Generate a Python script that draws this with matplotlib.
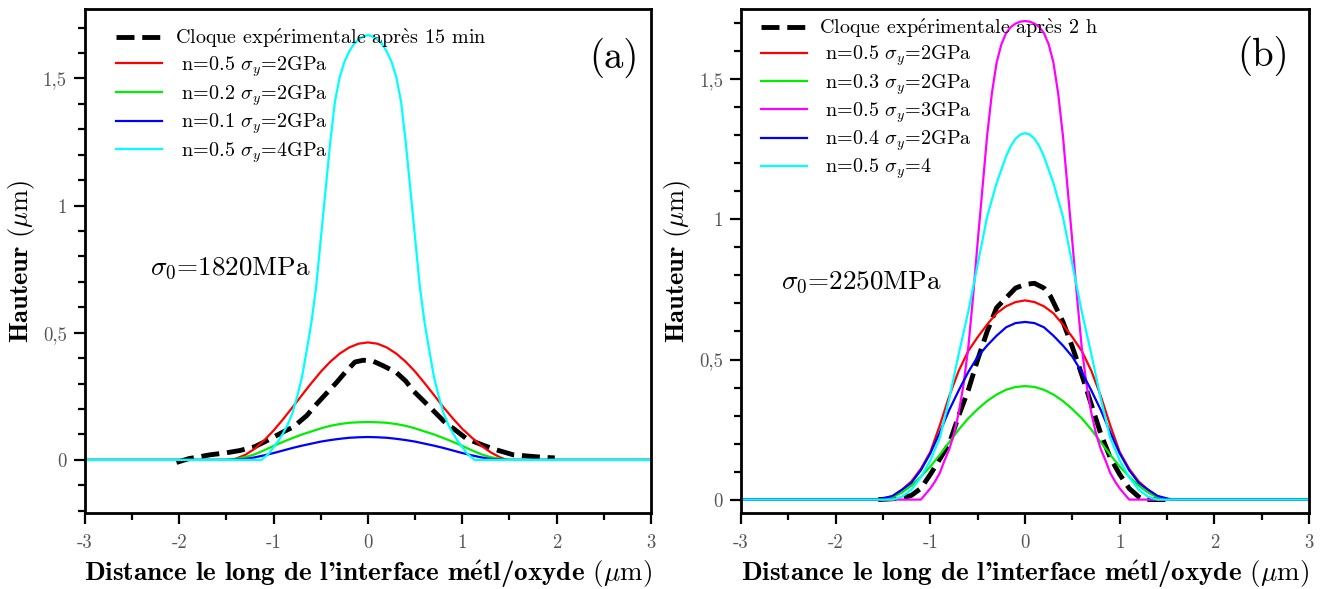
import matplotlib
matplotlib.use('Agg')
import matplotlib.pyplot as plt
from matplotlib.ticker import MultipleLocator

plt.rcParams['font.family'] = ['cmr10', 'DejaVu Serif']
plt.rcParams['mathtext.fontset'] = 'cm'
plt.rcParams['axes.unicode_minus'] = False

# ---------------- panel (a) : blister after 15 min ----------------
a_exp_x = [-2.03, -1.9, -1.675, -1.5, -1.357, -1.2, -1.074, -0.9, -0.79, -0.65, -0.544, -0.45,
           -0.332, -0.24, -0.138, -0.05, 0.056, 0.162, 0.30, 0.40, 0.48, 0.657, 0.834, 0.9,
           1.046, 1.22, 1.33, 1.54, 1.86, 1.98]
a_exp_y = [-0.01, 0.005, 0.02, 0.028, 0.037, 0.052, 0.075, 0.11, 0.13, 0.174, 0.22, 0.258,
           0.305, 0.345, 0.385, 0.392, 0.388, 0.37, 0.344, 0.31, 0.272, 0.207, 0.141, 0.125,
           0.083, 0.058, 0.043, 0.02, 0.01, 0.008]

a_red_x = [-3, -1.45, -1.4, -1.3, -1.2, -1.1, -1.0, -0.9, -0.8, -0.7, -0.6, -0.5, -0.4, -0.3, -0.2,
           -0.1, 0, 0.1, 0.2, 0.3, 0.4, 0.5, 0.6, 0.7, 0.8, 0.9, 1.0, 1.1, 1.2, 1.3, 1.4, 1.47, 3]
a_red_y = [0, 0, 0.005, 0.02, 0.044, 0.077, 0.116, 0.16, 0.207, 0.255, 0.302, 0.347, 0.386, 0.418,
           0.442, 0.457, 0.462, 0.457, 0.442, 0.418, 0.386, 0.347, 0.302, 0.255, 0.207, 0.163,
           0.122, 0.088, 0.056, 0.03, 0.01, 0, 0]

a_green_x = [-3, -1.5, -1.4, -1.3, -1.2, -1.1, -1.0, -0.9, -0.8, -0.7, -0.6, -0.5, -0.4, -0.3, -0.2,
             -0.1, 0, 0.1, 0.2, 0.3, 0.4, 0.5, 0.6, 0.7, 0.8, 0.9, 1.0, 1.1, 1.2, 1.3, 1.4, 1.5, 3]
a_green_y = [0, 0, 0.004, 0.011, 0.022, 0.038, 0.055, 0.071, 0.086, 0.1, 0.112, 0.124, 0.134, 0.141,
             0.146, 0.148, 0.149, 0.148, 0.146, 0.141, 0.134, 0.124, 0.112, 0.1, 0.086, 0.071,
             0.055, 0.038, 0.022, 0.011, 0.004, 0, 0]

a_blue_x = a_green_x
a_blue_y = [0, 0, 0.001, 0.004, 0.01, 0.018, 0.027, 0.037, 0.047, 0.056, 0.064, 0.072, 0.078, 0.083,
            0.087, 0.089, 0.09, 0.089, 0.087, 0.083, 0.078, 0.072, 0.064, 0.056, 0.047, 0.037,
            0.027, 0.018, 0.01, 0.004, 0.001, 0, 0]

a_cyan_x = [-3, -1.13, -1.1, -1.05, -1.0, -0.95, -0.9, -0.85, -0.8, -0.75, -0.7, -0.65, -0.6, -0.55,
            -0.5, -0.45, -0.4, -0.35, -0.3, -0.25, -0.2, -0.15, -0.1, -0.05, 0, 0.05, 0.1, 0.15,
            0.2, 0.25, 0.3, 0.35, 0.4, 0.45, 0.5, 0.55, 0.6, 0.65, 0.7, 0.75, 0.8, 0.85, 0.9,
            0.95, 1.0, 1.05, 1.1, 1.13, 3]
a_cyan_y = [0, 0, 0.01, 0.025, 0.05, 0.075, 0.105, 0.14, 0.185, 0.25, 0.325, 0.43, 0.54, 0.68,
            0.87, 1.06, 1.25, 1.41, 1.505, 1.565, 1.605, 1.635, 1.653, 1.665, 1.671, 1.665, 1.653,
            1.635, 1.605, 1.565, 1.505, 1.41, 1.25, 1.06, 0.87, 0.68, 0.54, 0.43, 0.325, 0.25,
            0.185, 0.14, 0.105, 0.075, 0.05, 0.025, 0.01, 0, 0]

a_labels = [r'Cloque exp$\mathrm{\acute{e}}$rimentale apr$\mathrm{\grave{e}}$s 15 min',
            r' n=0.5 $\sigma_y$=2GPa', r' n=0.2 $\sigma_y$=2GPa',
            r' n=0.1 $\sigma_y$=2GPa', r' n=0.5 $\sigma_y$=4GPa']

# ---------------- panel (b) : blister after 2 h ----------------
b_exp_x = [-1.55, -1.3, -1.2, -1.1, -1.0, -0.9, -0.8, -0.7, -0.6, -0.5, -0.4, -0.3, -0.2, -0.1,
           0, 0.1, 0.2, 0.27, 0.4, 0.5, 0.6, 0.7, 0.8, 0.9, 1.0, 1.1, 1.2, 1.25, 1.55]
b_exp_y = [0, 0.005, 0.015, 0.04, 0.09, 0.145, 0.2, 0.3, 0.39, 0.5, 0.6, 0.685, 0.72, 0.755,
           0.768, 0.772, 0.755, 0.725, 0.635, 0.545, 0.445, 0.34, 0.235, 0.15, 0.09, 0.04,
           0.01, 0, 0]

b_x = [-3, -1.5, -1.4, -1.3, -1.2, -1.1, -1.0, -0.9, -0.8, -0.7, -0.6, -0.5, -0.4, -0.3, -0.2,
       -0.1, 0, 0.1, 0.2, 0.3, 0.4, 0.5, 0.6, 0.7, 0.8, 0.9, 1.0, 1.1, 1.2, 1.3, 1.4, 1.5, 3]
b_red_y = [0, 0, 0.012, 0.035, 0.065, 0.11, 0.17, 0.265, 0.37, 0.46, 0.53, 0.58, 0.625, 0.665,
           0.69, 0.705, 0.711, 0.705, 0.69, 0.665, 0.625, 0.58, 0.53, 0.46, 0.37, 0.265, 0.17,
           0.11, 0.065, 0.035, 0.012, 0, 0]
b_green_y = [0, 0, 0.008, 0.025, 0.05, 0.082, 0.118, 0.16, 0.205, 0.25, 0.29, 0.323, 0.352, 0.375,
             0.392, 0.402, 0.405, 0.402, 0.392, 0.375, 0.352, 0.323, 0.29, 0.25, 0.205, 0.16,
             0.118, 0.082, 0.05, 0.025, 0.008, 0, 0]

b_mag_x = [-3, -1.1, -1.05, -1.0, -0.95, -0.9, -0.85, -0.8, -0.75, -0.7, -0.65, -0.6, -0.55, -0.5,
           -0.45, -0.4, -0.35, -0.3, -0.25, -0.2, -0.15, -0.1, -0.05, 0, 0.05, 0.1, 0.15, 0.2,
           0.25, 0.3, 0.35, 0.4, 0.45, 0.5, 0.55, 0.6, 0.65, 0.7, 0.75, 0.8, 0.85, 0.9, 0.95,
           1.0, 1.05, 1.1, 3]
b_mag_y = [0, 0, 0.02, 0.04, 0.065, 0.095, 0.14, 0.18, 0.235, 0.31, 0.41, 0.54, 0.72, 0.92, 1.11,
           1.3, 1.45, 1.56, 1.625, 1.665, 1.687, 1.699, 1.706, 1.708, 1.706, 1.699, 1.687, 1.665,
           1.625, 1.56, 1.45, 1.3, 1.11, 0.92, 0.72, 0.54, 0.41, 0.31, 0.235, 0.18, 0.14, 0.095,
           0.065, 0.04, 0.02, 0, 0]

b_blue_x = [-3, -1.55, -1.4, -1.3, -1.2, -1.1, -1.0, -0.9, -0.8, -0.7, -0.6, -0.5, -0.4, -0.3, -0.2,
            -0.1, 0, 0.1, 0.2, 0.3, 0.4, 0.5, 0.6, 0.7, 0.8, 0.9, 1.0, 1.1, 1.2, 1.3, 1.4, 1.55, 3]
b_blue_y = [0, 0, 0.013, 0.035, 0.06, 0.105, 0.165, 0.24, 0.32, 0.39, 0.455, 0.51, 0.55, 0.585,
            0.615, 0.63, 0.634, 0.63, 0.615, 0.585, 0.55, 0.51, 0.455, 0.39, 0.32, 0.24, 0.165,
            0.105, 0.06, 0.035, 0.013, 0, 0]

b_cyan_x = [-3, -1.4, -1.3, -1.2, -1.1, -1.0, -0.9, -0.8, -0.7, -0.6, -0.5, -0.4, -0.3, -0.2, -0.15,
            -0.1, -0.05, 0, 0.05, 0.1, 0.15, 0.2, 0.3, 0.4, 0.5, 0.6, 0.7, 0.8, 0.9, 1.0, 1.1,
            1.2, 1.3, 1.4, 3]
b_cyan_y = [0, 0, 0.01, 0.035, 0.08, 0.14, 0.22, 0.36, 0.52, 0.67, 0.84, 1.01, 1.13, 1.225, 1.262,
            1.288, 1.303, 1.308, 1.303, 1.288, 1.262, 1.225, 1.13, 1.01, 0.84, 0.67, 0.52, 0.36,
            0.22, 0.14, 0.08, 0.035, 0.01, 0, 0]

b_labels = [r'Cloque exp$\mathrm{\acute{e}}$rimentale apr$\mathrm{\grave{e}}$s 2 h',
            r' n=0.5 $\sigma_y$=2GPa', r' n=0.3 $\sigma_y$=2GPa', r' n=0.5 $\sigma_y$=3GPa',
            r' n=0.4 $\sigma_y$=2GPa', r' n=0.5 $\sigma_y$=4']

xtick_vals = [-3, -2, -1, 0, 1, 2, 3]
xtick_labels = ['-3', '-2', '-1', '0', '1', '2', '3']
ytick_vals = [0, 0.5, 1, 1.5]
ytick_labels = ['0', '0,5', '1', '1,5']

xlabel = r"Distance le long de l'interface m$\mathbf{\acute{e}}$tl/oxyde $(\mu\mathrm{m})$"
ylabel = r"Hauteur $(\mu\mathrm{m})$"


def style_axes(ax, ylim):
    ax.set_xlim(-3, 3)
    ax.set_ylim(*ylim)
    ax.set_xticks(xtick_vals)
    ax.set_xticklabels(xtick_labels)
    ax.set_yticks(ytick_vals)
    ax.set_yticklabels(ytick_labels)
    ax.xaxis.set_minor_locator(MultipleLocator(0.5))
    ax.yaxis.set_minor_locator(MultipleLocator(0.1))
    for s in ax.spines.values():
        s.set_linewidth(2.0)
    ax.tick_params(which='major', direction='out', length=8, width=1.6,
                   labelsize=13.5, labelcolor='#555555')
    ax.tick_params(which='minor', direction='out', length=5, width=1.6)
    ax.tick_params(axis='x', which='major', pad=7)
    ax.tick_params(axis='y', which='major', pad=5)
    ax.set_xlabel(xlabel, family='cmb10', fontsize=19.5, labelpad=5)
    ax.set_ylabel(ylabel, family='cmb10', fontsize=19, labelpad=4)


fig = plt.figure(figsize=(13.28, 5.89), dpi=100)
ax1 = fig.add_axes([0.0640, 0.1285, 0.4262, 0.8557])
ax2 = fig.add_axes([0.5580, 0.1285, 0.4277, 0.8557])

# (a)
ax1.plot(a_exp_x, a_exp_y, color='black', linestyle='--', linewidth=3.5, label=a_labels[0])
ax1.plot(a_red_x, a_red_y, color='#ff0000', linewidth=1.6, label=a_labels[1])
ax1.plot(a_green_x, a_green_y, color='#00ee00', linewidth=1.6, label=a_labels[2])
ax1.plot(a_blue_x, a_blue_y, color='#0000ff', linewidth=1.6, label=a_labels[3])
ax1.plot(a_cyan_x, a_cyan_y, color='#00ffff', linewidth=1.6, label=a_labels[4])
style_axes(ax1, (-0.21, 1.772))
ax1.legend(loc='upper left', bbox_to_anchor=(0.055, 0.965), borderaxespad=0, borderpad=0,
           frameon=False, handlelength=2.3, handletextpad=0.6, labelspacing=0.2,
           prop={'size': 14.5})
ax1.text(0.115, 0.487, r'$\sigma_0$=1820MPa', transform=ax1.transAxes, fontsize=19.5,
         va='center', ha='left')
ax1.text(0.935, 0.903, '(a)', transform=ax1.transAxes, fontsize=28, va='center', ha='center')

# (b)
ax2.plot(b_exp_x, b_exp_y, color='black', linestyle='--', linewidth=3.5, label=b_labels[0])
ax2.plot(b_x, b_red_y, color='#ff0000', linewidth=1.6, label=b_labels[1])
ax2.plot(b_x, b_green_y, color='#00ee00', linewidth=1.6, label=b_labels[2])
ax2.plot(b_mag_x, b_mag_y, color='#ff00ff', linewidth=1.6, label=b_labels[3])
ax2.plot(b_blue_x, b_blue_y, color='#0000ff', linewidth=1.6, label=b_labels[4])
ax2.plot(b_cyan_x, b_cyan_y, color='#00ffff', linewidth=1.6, label=b_labels[5])
style_axes(ax2, (-0.049, 1.75))
ax2.legend(loc='upper left', bbox_to_anchor=(0.035, 0.985), borderaxespad=0, borderpad=0,
           frameon=False, handlelength=2.3, handletextpad=0.6, labelspacing=0.18,
           prop={'size': 14.5})
ax2.text(0.070, 0.459, r'$\sigma_0$=2250MPa', transform=ax2.transAxes, fontsize=19.5,
         va='center', ha='left')
ax2.text(0.919, 0.907, '(b)', transform=ax2.transAxes, fontsize=28, va='center', ha='center')

fig.savefig('out.png', dpi=100)
